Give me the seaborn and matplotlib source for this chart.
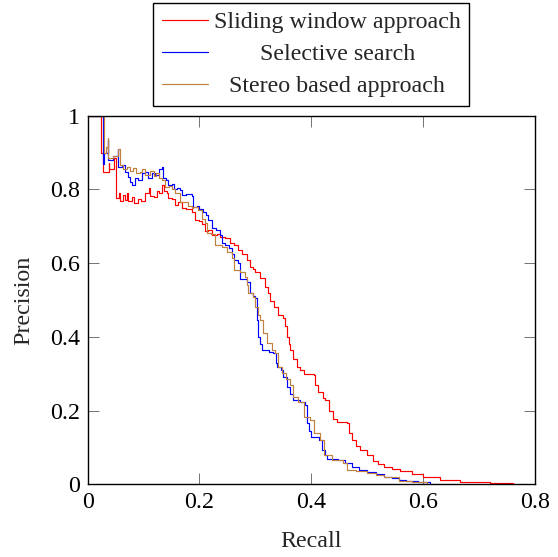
import numpy as np
import pandas as pd
import seaborn as sns
import matplotlib
matplotlib.use('Agg')
import matplotlib.pyplot as plt

# values
series_names = ['Sliding window approach', 'Selective search', 'Stereo based approach']
series_colors = ['#ff0000', '#0000ff', '#bf8040']

recall_sliding = [0, 0.024, 0.024, 0.028, 0.028, 0.038, 0.038, 0.047, 0.050, 0.056, 0.058, 0.064,
                  0.066, 0.070, 0.073, 0.079, 0.083, 0.090, 0.095, 0.103, 0.109, 0.112, 0.118, 0.124,
                  0.128, 0.133, 0.136, 0.142, 0.144, 0.150, 0.156, 0.162, 0.168, 0.176, 0.186, 0.192,
                  0.200, 0.204, 0.210, 0.215, 0.222, 0.232, 0.237, 0.245, 0.255, 0.262, 0.269, 0.276,
                  0.285, 0.290, 0.296, 0.300, 0.308, 0.317, 0.322, 0.326, 0.333, 0.341, 0.350, 0.352,
                  0.356, 0.360, 0.362, 0.368, 0.374, 0.380, 0.386, 0.404, 0.407, 0.412, 0.420, 0.425,
                  0.432, 0.439, 0.445, 0.463, 0.468, 0.472, 0.480, 0.487, 0.500, 0.511, 0.520, 0.529,
                  0.545, 0.559, 0.580, 0.600, 0.630, 0.666, 0.720, 0.761]
precision_sliding = [1, 1, 0.898, 0.898, 0.848, 0.871, 0.855, 0.884, 0.776, 0.790, 0.768, 0.785,
                     0.772, 0.790, 0.768, 0.780, 0.762, 0.775, 0.768, 0.790, 0.803, 0.782, 0.780, 0.797,
                     0.790, 0.812, 0.795, 0.790, 0.778, 0.775, 0.758, 0.765, 0.749, 0.748, 0.740, 0.718,
                     0.715, 0.705, 0.688, 0.690, 0.676, 0.680, 0.672, 0.668, 0.655, 0.648, 0.636, 0.625,
                     0.608, 0.590, 0.585, 0.577, 0.560, 0.536, 0.520, 0.497, 0.480, 0.460, 0.450, 0.430,
                     0.400, 0.380, 0.364, 0.340, 0.318, 0.310, 0.300, 0.296, 0.270, 0.250, 0.235, 0.228,
                     0.200, 0.178, 0.170, 0.165, 0.140, 0.120, 0.105, 0.093, 0.080, 0.064, 0.055, 0.046,
                     0.041, 0.037, 0.029, 0.021, 0.013, 0.007, 0.003, 0.001]

recall_selective = [0, 0.027, 0.027, 0.030, 0.037, 0.037, 0.045, 0.055, 0.055, 0.062, 0.067, 0.072,
                    0.075, 0.079, 0.085, 0.090, 0.097, 0.103, 0.108, 0.115, 0.120, 0.127, 0.133, 0.134,
                    0.140, 0.144, 0.150, 0.155, 0.160, 0.165, 0.168, 0.176, 0.186, 0.189, 0.196, 0.200,
                    0.207, 0.212, 0.216, 0.222, 0.230, 0.237, 0.240, 0.245, 0.252, 0.258, 0.261, 0.268,
                    0.273, 0.273, 0.285, 0.290, 0.296, 0.300, 0.302, 0.305, 0.308, 0.311, 0.325, 0.332,
                    0.336, 0.338, 0.345, 0.350, 0.356, 0.362, 0.368, 0.380, 0.389, 0.392, 0.396, 0.400,
                    0.413, 0.419, 0.425, 0.428, 0.448, 0.460, 0.472, 0.485, 0.499, 0.515, 0.529, 0.545,
                    0.556, 0.570, 0.590, 0.612]
precision_selective = [1, 1, 0.870, 0.900, 0.935, 0.880, 0.890, 0.910, 0.860, 0.865, 0.848, 0.835,
                       0.820, 0.812, 0.830, 0.825, 0.845, 0.848, 0.830, 0.845, 0.840, 0.855, 0.862, 0.830,
                       0.825, 0.812, 0.815, 0.800, 0.805, 0.798, 0.785, 0.788, 0.782, 0.753, 0.755, 0.748,
                       0.740, 0.730, 0.717, 0.695, 0.690, 0.676, 0.654, 0.650, 0.640, 0.625, 0.608, 0.600,
                       0.590, 0.556, 0.550, 0.520, 0.510, 0.505, 0.446, 0.400, 0.380, 0.364, 0.360, 0.355,
                       0.330, 0.319, 0.310, 0.292, 0.265, 0.245, 0.229, 0.222, 0.215, 0.165, 0.145, 0.129,
                       0.120, 0.093, 0.080, 0.070, 0.066, 0.057, 0.048, 0.040, 0.034, 0.027, 0.021, 0.016,
                       0.012, 0.009, 0.005, 0.003]

recall_stereo = [0, 0.029, 0.029, 0.033, 0.037, 0.037, 0.045, 0.055, 0.058, 0.063, 0.070, 0.075,
                 0.082, 0.087, 0.093, 0.098, 0.103, 0.109, 0.112, 0.118, 0.123, 0.128, 0.133, 0.139,
                 0.146, 0.150, 0.156, 0.165, 0.172, 0.180, 0.186, 0.189, 0.198, 0.205, 0.210, 0.213,
                 0.220, 0.228, 0.240, 0.250, 0.258, 0.261, 0.273, 0.282, 0.285, 0.287, 0.296, 0.299,
                 0.305, 0.308, 0.314, 0.320, 0.329, 0.335, 0.341, 0.347, 0.355, 0.362, 0.368, 0.377,
                 0.386, 0.398, 0.404, 0.416, 0.422, 0.437, 0.457, 0.463, 0.480, 0.499, 0.515, 0.529,
                 0.556, 0.580, 0.606]
precision_stereo = [1, 1, 0.900, 0.915, 0.940, 0.885, 0.890, 0.910, 0.866, 0.855, 0.860, 0.850,
                    0.857, 0.845, 0.848, 0.855, 0.840, 0.839, 0.850, 0.837, 0.845, 0.830, 0.826, 0.807,
                    0.810, 0.800, 0.790, 0.765, 0.765, 0.755, 0.749, 0.753, 0.744, 0.720, 0.708, 0.681,
                    0.680, 0.649, 0.645, 0.630, 0.613, 0.581, 0.577, 0.563, 0.540, 0.518, 0.509, 0.482,
                    0.460, 0.446, 0.410, 0.383, 0.364, 0.355, 0.319, 0.301, 0.285, 0.269, 0.238, 0.224,
                    0.183, 0.174, 0.138, 0.120, 0.079, 0.066, 0.057, 0.039, 0.035, 0.030, 0.025, 0.021,
                    0.010, 0.005, 0.0]

x_ticks = [0, 0.2, 0.4, 0.6, 0.8]
x_tick_labels = ['0', '0.2', '0.4', '0.6', '0.8']
y_ticks = [0, 0.2, 0.4, 0.6, 0.8, 1]
y_tick_labels = ['0', '0.2', '0.4', '0.6', '0.8', '1']

sns.set_style('white')
plt.rcParams['font.family'] = ['Liberation Serif', 'DejaVu Serif']

fs = 17.3
fig = plt.figure(figsize=(5.58, 5.57), dpi=100)
ax = fig.add_axes([0.157, 0.1305, 0.802, 0.6618])

curves = [(recall_sliding, precision_sliding), (recall_selective, precision_selective),
          (recall_stereo, precision_stereo)]
for (rec, prec), name, col in zip(curves, series_names, series_colors):
    df = pd.DataFrame({'Recall': rec, 'Precision': prec})
    sns.lineplot(data=df, x='Recall', y='Precision', sort=False, estimator=None,
                 color=col, linewidth=0.85, drawstyle='steps-post', label=name, ax=ax)

ax.set_xlim(0, 0.8)
ax.set_ylim(0, 1)
ax.set_xticks(x_ticks)
ax.set_xticklabels(x_tick_labels)
ax.set_yticks(y_ticks)
ax.set_yticklabels(y_tick_labels)
ax.tick_params(direction='in', length=8, width=0.7, color='0.45', labelsize=fs,
               labelcolor='black', pad=5.5, top=True, right=True, bottom=True, left=True)
for sp in ax.spines.values():
    sp.set_color('black')
    sp.set_linewidth(1.0)
ax.set_xlabel('Recall', fontsize=fs, labelpad=13)
ax.set_ylabel('Precision', fontsize=fs, labelpad=11)

ax.get_legend().remove()
handles, labels = ax.get_legend_handles_labels()
leg = fig.legend(handles, labels, loc='upper center', bbox_to_anchor=(0.558, 0.9946),
                 bbox_transform=fig.transFigure, borderaxespad=0, fontsize=fs,
                 frameon=True, fancybox=False, edgecolor='black', framealpha=1,
                 handlelength=1.9, handletextpad=0.25, borderpad=0.36, labelspacing=0.42)
leg.get_frame().set_linewidth(1.0)
for h in leg.legend_handles:
    h.set_drawstyle('default')

# centre the legend texts like pgfplots does
fig.canvas.draw()
renderer = fig.canvas.get_renderer()
widths = [t.get_window_extent(renderer).width for t in leg.get_texts()]
for t, w in zip(leg.get_texts(), widths):
    t.set_x((max(widths) - w) / 2)

fig.savefig('out.png', dpi=100)
